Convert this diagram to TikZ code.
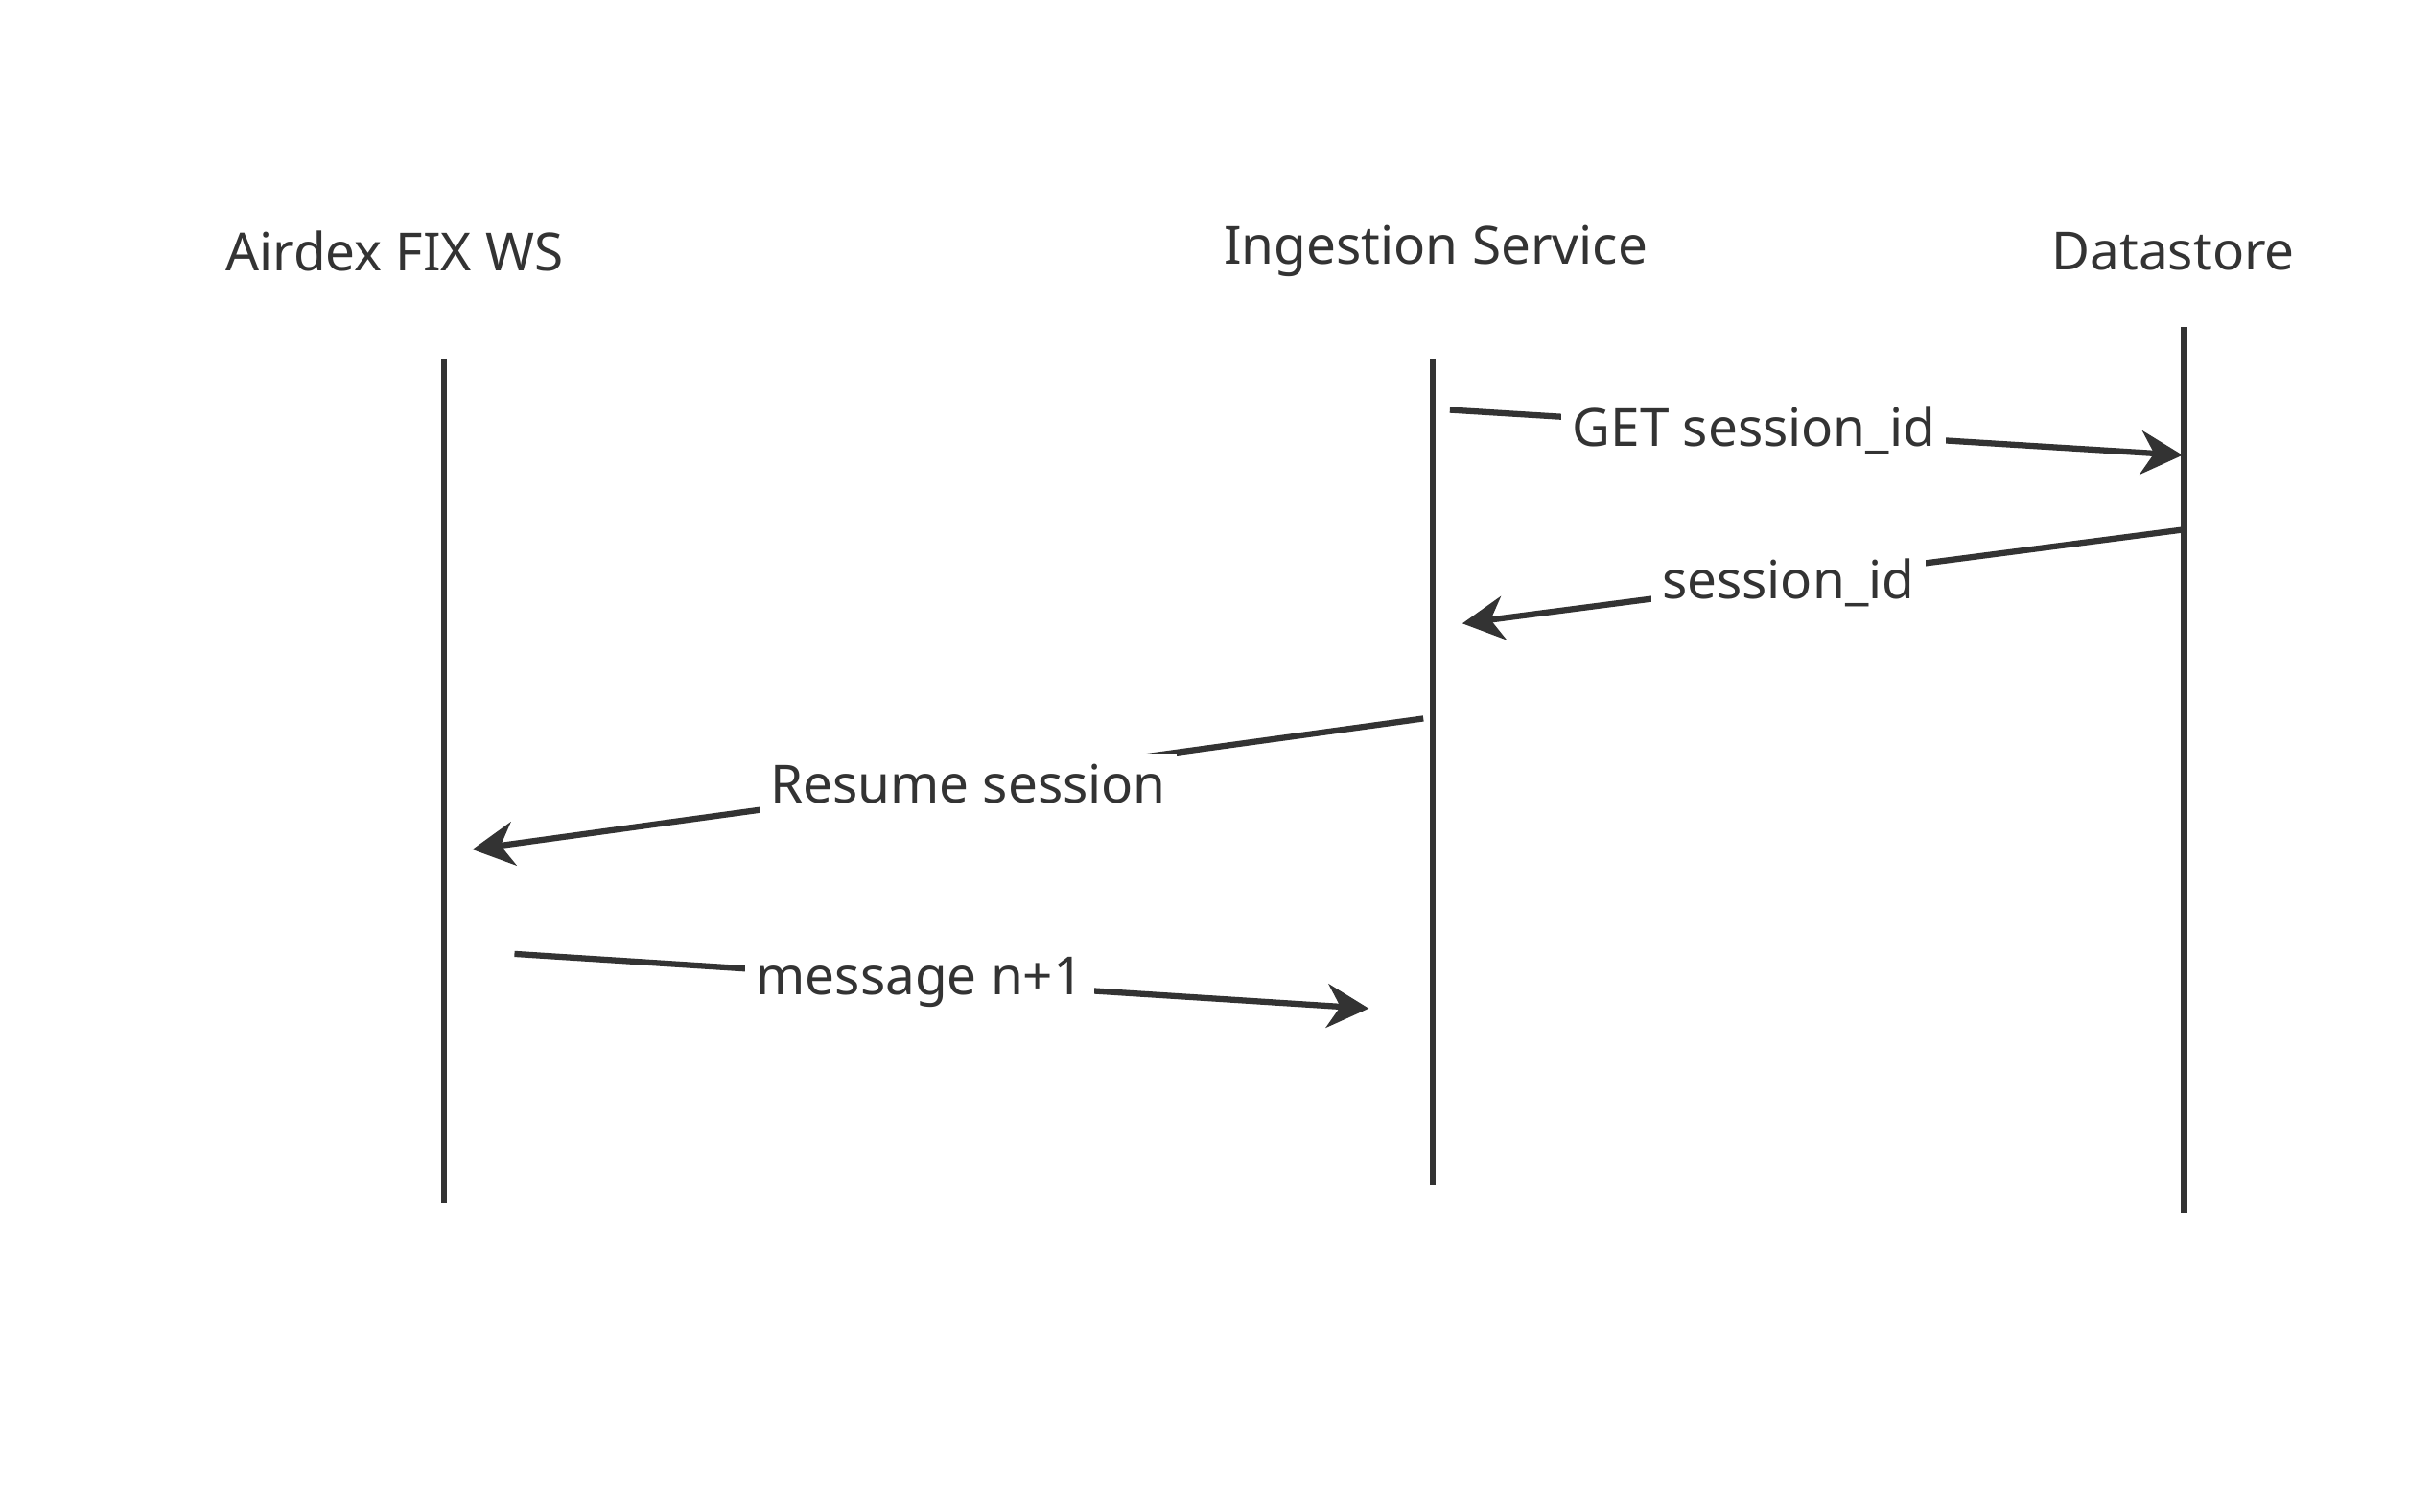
\documentclass[tikz,border=0pt]{standalone}
\usepackage{fontspec}
\setmainfont{Noto Sans}
\usetikzlibrary{arrows.meta}
\definecolor{ink}{HTML}{333333}
\begin{document}
\begin{tikzpicture}[x=0.05cm,y=-0.05cm,
  life/.style={draw=ink,line width=5.5pt},
  msg/.style={draw=ink,line width=5.5pt,-{Stealth[length=38pt,width=40pt,inset=12pt]}},
  lbl/.style={fill=white,text=ink,font=\fontsize{48}{56}\selectfont,inner sep=10pt},
  head/.style={text=ink,font=\fontsize{48}{56}\selectfont}]
\useasboundingbox (0,0) rectangle (1560,970);
\node[head] (hA) at (253,161) {Airdex FIX WS};
\node[head] (hI) at (921,161) {Ingestion Service};
\node[head] (hD) at (1394,161) {Datastore};
\coordinate (a1) at (285,230); \coordinate (a2) at (285,772);
\coordinate (i1) at (919,230); \coordinate (i2) at (919,760);
\coordinate (d1) at (1401,210); \coordinate (d2) at (1401,778);
\draw[life] (a1) -- (a2);
\draw[life] (i1) -- (i2);
\draw[life] (d1) -- (d2);
\coordinate (m1s) at (930,263); \coordinate (m1e) at (1400,292);
\coordinate (m2s) at (1399,340); \coordinate (m2e) at (938,400);
\coordinate (m3s) at (913,461); \coordinate (m3e) at (303,545);
\coordinate (m4s) at (330,612); \coordinate (m4e) at (878,647);
\draw[msg] (m1s) -- (m1e);
\draw[msg] (m2s) -- (m2e);
\draw[msg] (m3s) -- (m3e);
\draw[msg] (m4s) -- (m4e);
\node[lbl] (l1) at (1125,276) {GET session\_id};
\node[lbl] (l2) at (1147,374) {session\_id};
\node[lbl] (l3) at (621,503) {Resume session};
\node[lbl] (l4) at (590,630) {message n+1};
\end{tikzpicture}
\end{document}
